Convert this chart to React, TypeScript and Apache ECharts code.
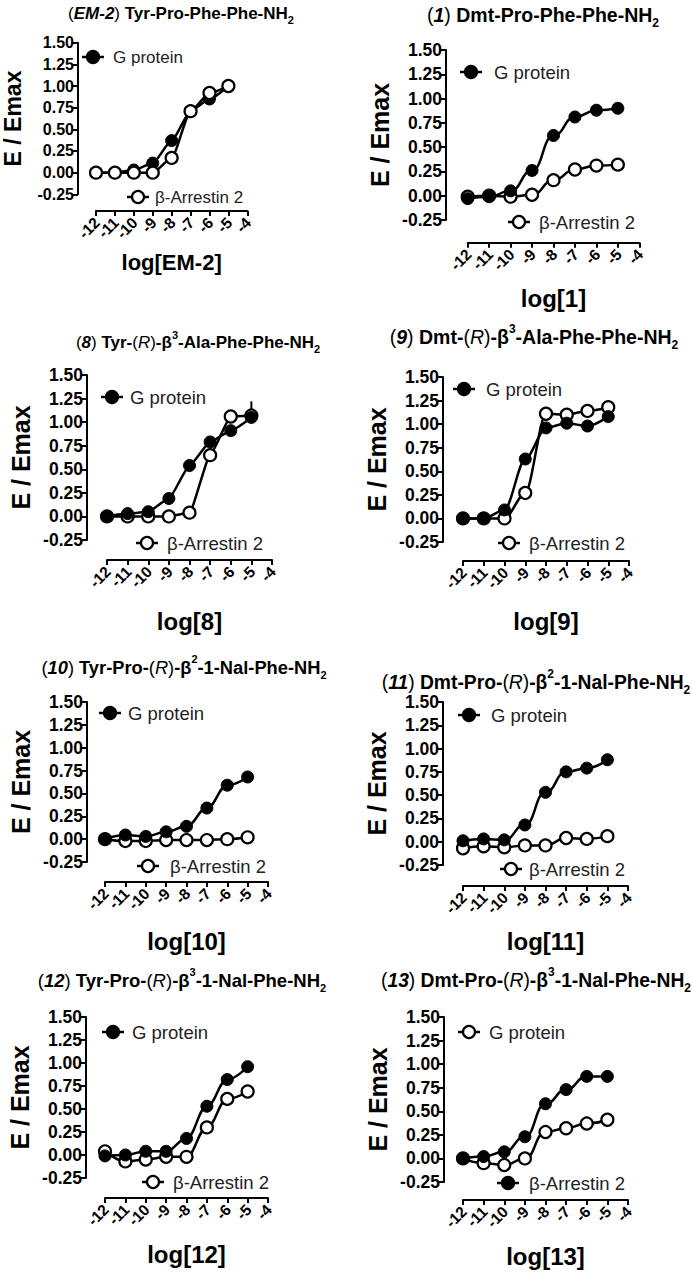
import React, { useEffect, useRef } from "react";
import * as echarts from "echarts";

// ---------- data ----------
const DOSES = [-12, -11, -10, -9, -8, -7, -6, -5];
const X_TICKS = [-12, -11, -10, -9, -8, -7, -6, -5, -4];
const X_MIN = -12;
const X_MAX = -4;
const Y_MIN = -0.25;
const Y_MAX = 1.5;

const EM2_G = [0, 0, 0.03, 0.11, 0.37, 0.71, 0.85, 1.0];
const EM2_B = [0, 0, 0, 0, 0.17, 0.71, 0.92, 1.0];
const C1_G = [-0.03, -0.01, 0.05, 0.26, 0.62, 0.81, 0.88, 0.9];
const C1_B = [-0.01, 0, -0.01, 0.01, 0.16, 0.27, 0.31, 0.32];
const C8_G = [0, 0.03, 0.05, 0.19, 0.54, 0.79, 0.91, 1.05];
const C8_B = [0, 0, 0, 0, 0.04, 0.65, 1.06, 1.07];
const C8_ERR_X = [-5];
const C8_ERR_LOW = [1.05];
const C8_ERR_HIGH = [1.22];
const C9_G = [0, 0, 0.09, 0.63, 0.96, 1.01, 0.98, 1.08];
const C9_B = [0, 0, 0, 0.27, 1.11, 1.1, 1.14, 1.18];
const C10_G = [0, 0.045, 0.03, 0.08, 0.14, 0.34, 0.59, 0.68];
const C10_B = [0, -0.02, -0.02, -0.01, -0.01, -0.01, 0, 0.02];
const C11_G = [0.01, 0.03, 0.02, 0.18, 0.53, 0.75, 0.79, 0.88];
const C11_B = [-0.07, -0.05, -0.06, -0.04, -0.04, 0.04, 0.03, 0.06];
const C12_G = [-0.01, 0, 0.04, 0.04, 0.18, 0.53, 0.82, 0.96];
const C12_B = [0.04, -0.07, -0.05, -0.02, -0.02, 0.3, 0.61, 0.69];
const C13_FILLED = [0, 0.02, 0.07, 0.23, 0.58, 0.73, 0.87, 0.87];
const C13_OPEN = [0, -0.05, -0.07, 0, 0.28, 0.32, 0.37, 0.41];

const Y_LABEL = "E / Emax";
const LEG_G = "G protein";
const LEG_B = "β-Arrestin 2";

const TITLES = [
  "{pn|(}{bi|EM-2}{pn|)}{b| Tyr-Pro-Phe-Phe-NH}{sub|2}",
  "{pn|(}{bi|1}{pn|)}{b| Dmt-Pro-Phe-Phe-NH}{sub|2}",
  "{pn|(}{bi|8}{pn|)}{b| Tyr-}{pn|(}{i|R}{pn|)}{b|-β}{sup|3}{b|-Ala-Phe-Phe-NH}{sub|2}",
  "{pn|(}{bi|9}{pn|)}{b| Dmt-}{pn|(}{i|R}{pn|)}{b|-β}{sup|3}{b|-Ala-Phe-Phe-NH}{sub|2}",
  "{pn|(}{bi|10}{pn|)}{b| Tyr-Pro-}{pn|(}{i|R}{pn|)}{b|-β}{sup|2}{b|-1-Nal-Phe-NH}{sub|2}",
  "{pn|(}{bi|11}{pn|)}{b| Dmt-Pro-}{pn|(}{i|R}{pn|)}{b|-β}{sup|2}{b|-1-Nal-Phe-NH}{sub|2}",
  "{pn|(}{bi|12}{pn|)}{b| Tyr-Pro-}{pn|(}{i|R}{pn|)}{b|-β}{sup|3}{b|-1-Nal-Phe-NH}{sub|2}",
  "{pn|(}{bi|13}{pn|)}{b| Dmt-Pro-}{pn|(}{i|R}{pn|)}{b|-β}{sup|3}{b|-1-Nal-Phe-NH}{sub|2}",
];
const X_NAMES = ["log[EM-2]", "log[1]", "log[8]", "log[9]", "log[10]", "log[11]", "log[12]", "log[13]"];

// ---------- layout (pixels) ----------
const FONT = "'Liberation Sans', Arial, Helvetica, sans-serif";

type Panel = {
  x0: number; x1: number; yTop: number; yBot: number; axX: number; axY: number;
  tx: number; ty: number; tfs: number;
  fs: number; yfs: number; xfs: number; lfs: number; xGap: number; yGap: number;
  filled: number[]; open: number[]; openOnTop: boolean; smooth: number;
  legTop: [number, number, number, boolean]; legBot: [number, number, number, boolean];
  topLabel: string; botLabel: string;
};

const P: Panel[] = [
  { x0: 95.7, x1: 247.3, yTop: 42.7, yBot: 194.3, axX: 77.7, axY: 211, tx: 181, ty: 13, tfs: 17,
    fs: 16, yfs: 23, xfs: 22, lfs: 17, xGap: 40, yGap: 54,
    filled: EM2_G, open: EM2_B, openOnTop: true, smooth: 0.2,
    legTop: [93, 57, 113, true], legBot: [138, 197, 155, false], topLabel: LEG_G, botLabel: LEG_B },
  { x0: 467.7, x1: 639.3, yTop: 50, yBot: 220, axX: 446, axY: 242.7, tx: 543, ty: 15, tfs: 19.5,
    fs: 17.5, yfs: 25, xfs: 24, lfs: 18.5, xGap: 44, yGap: 54,
    filled: C1_G, open: C1_B, openOnTop: false, smooth: 0.5,
    legTop: [471, 72, 494, true], legBot: [519, 222, 539, false], topLabel: LEG_G, botLabel: LEG_B },
  { x0: 107, x1: 272, yTop: 375, yBot: 540, axX: 87, axY: 560, tx: 198, ty: 342, tfs: 17,
    fs: 17.5, yfs: 25, xfs: 24, lfs: 18.5, xGap: 49, yGap: 54,
    filled: C8_G, open: C8_B, openOnTop: false, smooth: 0.15,
    legTop: [112, 397, 130, true], legBot: [147, 543, 167, false], topLabel: LEG_G, botLabel: LEG_B },
  { x0: 463, x1: 629, yTop: 377, yBot: 542, axX: 443, axY: 561, tx: 534, ty: 337, tfs: 19.5,
    fs: 17.5, yfs: 25, xfs: 24, lfs: 18.5, xGap: 48, yGap: 54,
    filled: C9_G, open: C9_B, openOnTop: false, smooth: 0.3,
    legTop: [464, 389, 486, true], legBot: [509, 543, 529, false], topLabel: LEG_G, botLabel: LEG_B },
  { x0: 105, x1: 268, yTop: 702, yBot: 862, axX: 87, axY: 882, tx: 184, ty: 667, tfs: 18.3,
    fs: 17.5, yfs: 25, xfs: 24, lfs: 18.5, xGap: 47, yGap: 54,
    filled: C10_G, open: C10_B, openOnTop: false, smooth: 0.4,
    legTop: [110, 713, 128, true], legBot: [148, 866, 170, false], topLabel: LEG_G, botLabel: LEG_B },
  { x0: 463, x1: 628, yTop: 702, yBot: 865, axX: 443, axY: 886, tx: 536, ty: 682, tfs: 19.3,
    fs: 17.5, yfs: 25, xfs: 24, lfs: 18.5, xGap: 43, yGap: 54,
    filled: C11_G, open: C11_B, openOnTop: false, smooth: 0.5,
    legTop: [469, 715, 491, true], legBot: [511, 869, 529, false], topLabel: LEG_G, botLabel: LEG_B },
  { x0: 105, x1: 268, yTop: 1017, yBot: 1178, axX: 86, axY: 1198, tx: 182, ty: 980, tfs: 18.5,
    fs: 17.5, yfs: 25, xfs: 24, lfs: 18.5, xGap: 44, yGap: 54,
    filled: C12_G, open: C12_B, openOnTop: false, smooth: 0.4,
    legTop: [113, 1032, 132, true], legBot: [153, 1182, 173, false], topLabel: LEG_G, botLabel: LEG_B },
  { x0: 463, x1: 628, yTop: 1017, yBot: 1182, axX: 444, axY: 1200, tx: 536, ty: 980, tfs: 19.3,
    fs: 17.5, yfs: 25, xfs: 24, lfs: 18.5, xGap: 44, yGap: 54,
    filled: C13_FILLED, open: C13_OPEN, openOnTop: false, smooth: 0.5,
    legTop: [469, 1032, 489, false], legBot: [508, 1183, 529, true], topLabel: LEG_G, botLabel: LEG_B },
];

const W = 692;
const H = 1273;

function richFor(fs: number) {
  const lh = Math.round(fs * 1.45);
  const small = Math.round(fs * 0.62);
  const sh = Math.round(lh / 2);
  const base = { fontFamily: FONT, fill: "#000", fontSize: fs, lineHeight: lh, verticalAlign: "middle" };
  return {
    lh,
    rich: {
      b: { ...base, fontWeight: "bold" },
      bi: { ...base, fontWeight: "bold", fontStyle: "italic" },
      i: { ...base, fontWeight: "normal", fontStyle: "italic" },
      pn: { ...base, fontWeight: "normal" },
      sub: { fontFamily: FONT, fill: "#000", fontWeight: "bold", fontSize: small, lineHeight: sh, verticalAlign: "bottom" },
      sup: { fontFamily: FONT, fill: "#000", fontWeight: "bold", fontSize: small, lineHeight: sh, verticalAlign: "top" },
    },
  };
}

function legendItem(cx: number, cy: number, tx: number, filled: boolean, label: string, fs: number) {
  return {
    type: "group",
    children: [
      { type: "line", shape: { x1: cx - 11, y1: cy, x2: cx + 11, y2: cy }, style: { stroke: "#000", lineWidth: 2.5 } },
      { type: "circle", shape: { cx, cy, r: 6 }, style: { fill: filled ? "#000" : "#fff", stroke: "#000", lineWidth: 2.2 } },
      { type: "text", x: tx, y: cy, style: { text: label, fontSize: fs, fontFamily: FONT, fill: "#222", align: "left", verticalAlign: "middle" } },
    ],
  };
}

function buildOption() {
  const grid: any[] = [];
  const xAxis: any[] = [];
  const yAxis: any[] = [];
  const series: any[] = [];
  const graphic: any[] = [];

  P.forEach((p, i) => {
    const xOff = p.axY - p.yBot;
    grid.push({ left: p.x0, top: p.yTop, width: p.x1 - p.x0, height: p.yBot - p.yTop, containLabel: false });
    xAxis.push({
      type: "value", gridIndex: i, min: X_MIN, max: X_MAX, interval: 1, position: "bottom",
      offset: xOff,
      axisLine: { show: true, onZero: false, lineStyle: { color: "#000", width: 2 } },
      axisTick: { show: true, length: 5, lineStyle: { color: "#000", width: 2 } },
      splitLine: { show: false },
      axisLabel: { show: false },
      name: X_NAMES[i], nameLocation: "middle", nameGap: p.xGap, nameMoveOverlap: false,
      nameTextStyle: { fontSize: p.xfs, fontWeight: "bold", color: "#000", fontFamily: FONT },
    });
    yAxis.push({
      type: "value", gridIndex: i, min: Y_MIN, max: Y_MAX, interval: 0.25, position: "left",
      offset: p.x0 - p.axX,
      axisLine: { show: true, onZero: false, lineStyle: { color: "#000", width: 2 } },
      axisTick: { show: true, length: 5, lineStyle: { color: "#000", width: 2 } },
      splitLine: { show: false },
      axisLabel: { margin: 4, fontSize: p.fs, fontWeight: "bold", color: "#000", fontFamily: FONT,
        showMinLabel: true, showMaxLabel: true,
        formatter: (v: number) => v.toFixed(2) },
      name: Y_LABEL, nameLocation: "middle", nameGap: p.yGap, nameMoveOverlap: false,
      nameTextStyle: { fontSize: p.yfs, fontWeight: "bold", color: "#000", fontFamily: FONT },
    });

    // rotated x tick labels, placed through the axis scale
    series.push({
      type: "custom", name: "xticks" + i, xAxisIndex: i, yAxisIndex: i, clip: false, silent: true,
      data: X_TICKS.map((v) => [v, Y_MIN]),
      renderItem: (_params: any, api: any) => {
        const v = api.value(0);
        const pt = api.coord([v, api.value(1)]);
        return {
          type: "text", x: pt[0] + 1, y: pt[1] + xOff + 9, rotation: Math.PI / 4,
          style: { text: String(v), align: "right", verticalAlign: "middle", fontSize: 15.5,
            fontWeight: "bold", fontFamily: FONT, fill: "#000" },
        };
      },
    });

    const mk = (vals: number[], filled: boolean, name: string) => ({
      type: "line", name, xAxisIndex: i, yAxisIndex: i,
      data: DOSES.map((d, k) => [d, vals[k]]),
      smooth: p.smooth, smoothMonotone: "x",
      symbol: "circle", symbolSize: 12, showSymbol: true,
      lineStyle: { color: "#000", width: 2.5 },
      itemStyle: filled ? { color: "#000", borderColor: "#000", borderWidth: 1 } : { color: "#fff", borderColor: "#000", borderWidth: 2.2 },
      emphasis: { disabled: true }, silent: true,
    });

    if (i === 2) {
      series.push({
        type: "line", name: "err", xAxisIndex: i, yAxisIndex: i, symbol: "none",
        data: [[C8_ERR_X[0], C8_ERR_LOW[0]], [C8_ERR_X[0], C8_ERR_HIGH[0]]],
        lineStyle: { color: "#000", width: 2 }, silent: true,
      });
    }
    const fName = i === 7 ? LEG_B : LEG_G;
    const oName = i === 7 ? LEG_G : LEG_B;
    if (p.openOnTop) {
      series.push(mk(p.filled, true, fName));
      series.push(mk(p.open, false, oName));
    } else {
      series.push(mk(p.open, false, oName));
      series.push(mk(p.filled, true, fName));
    }

    const r = richFor(p.tfs);
    graphic.push({
      type: "text", x: p.tx, y: p.ty,
      style: { text: TITLES[i], rich: r.rich, align: "center", verticalAlign: "middle", fontFamily: FONT, fontSize: p.tfs },
    });

    graphic.push(legendItem(p.legTop[0], p.legTop[1], p.legTop[2], p.legTop[3], p.topLabel, p.lfs));
    graphic.push(legendItem(p.legBot[0], p.legBot[1], p.legBot[2], p.legBot[3], p.botLabel, p.lfs));
  });

  return {
    animation: false,
    backgroundColor: "#fff",
    grid, xAxis, yAxis, series, graphic,
  };
}

export default function App() {
  const ref = useRef<HTMLDivElement>(null);
  useEffect(() => {
    if (!ref.current) return;
    const chart = echarts.init(ref.current, undefined, { renderer: "svg", width: W, height: H });
    chart.setOption(buildOption() as any);
    return () => chart.dispose();
  }, []);
  return (
    <div
      ref={ref}
      style={{ position: "absolute", left: 0, top: 0, width: W, height: H, background: "#fff" }}
    />
  );
}
